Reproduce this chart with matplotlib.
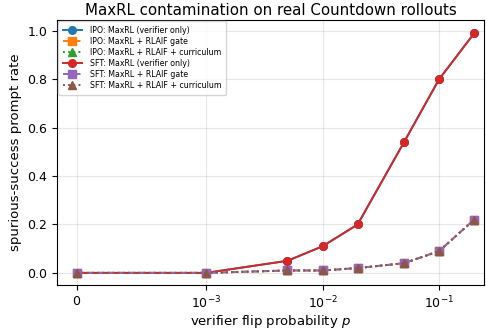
import matplotlib
matplotlib.use("Agg")
import matplotlib.pyplot as plt

p_values = [0, 1e-3, 5e-3, 1e-2, 2e-2, 5e-2, 1e-1, 2e-1]
ipo_maxrl = [0.0, 0.0, 0.05, 0.11, 0.20, 0.54, 0.80, 0.99]
ipo_gate = [0.0, 0.0, 0.01, 0.01, 0.02, 0.04, 0.09, 0.22]
ipo_curr = [0.0, 0.0, 0.01, 0.01, 0.02, 0.04, 0.09, 0.22]
sft_maxrl = [0.0, 0.0, 0.05, 0.11, 0.20, 0.54, 0.80, 0.99]
sft_gate = [0.0, 0.0, 0.01, 0.01, 0.02, 0.04, 0.09, 0.22]
sft_curr = [0.0, 0.0, 0.01, 0.01, 0.02, 0.04, 0.09, 0.22]

series = [
    ("IPO: MaxRL (verifier only)", ipo_maxrl, "#1f77b4", "o", "-"),
    ("IPO: MaxRL + RLAIF gate", ipo_gate, "#ff7f0e", "s", "--"),
    ("IPO: MaxRL + RLAIF + curriculum", ipo_curr, "#2ca02c", "^", ":"),
    ("SFT: MaxRL (verifier only)", sft_maxrl, "#d62728", "o", "-"),
    ("SFT: MaxRL + RLAIF gate", sft_gate, "#9467bd", "s", "--"),
    ("SFT: MaxRL + RLAIF + curriculum", sft_curr, "#8c564b", "^", ":"),
]

fig = plt.figure(figsize=(4.86, 3.31), dpi=100)
ax = fig.add_axes([57/486, 1-285/331, (484-57)/486, (285-20)/331])
for label, vals, color, marker, ls in series:
    ax.plot(p_values, vals, color=color, marker=marker, linestyle=ls,
            label=label, linewidth=1.4, markersize=5.5)

ax.set_xscale("symlog", linthresh=1e-3, linscale=1)
ax.set_xlim(-1.51e-4, 0.243)
ax.set_xticks([0, 1e-3, 1e-2, 1e-1])
ax.set_ylim(-0.05, 1.045)
ax.grid(True, alpha=0.3)
ax.set_xlabel("verifier flip probability $p$", fontsize=9.5, labelpad=1.5)
ax.set_ylabel("spurious-success prompt rate", fontsize=9.5, labelpad=4)
ax.set_title("MaxRL contamination on real Countdown rollouts", fontsize=10.8, pad=3.5)
ax.tick_params(labelsize=9)
ax.legend(loc="upper left", fontsize=5.7, borderaxespad=0.15, borderpad=0.6,
          labelspacing=0.25, handlelength=2.4, handletextpad=1.0)
fig.savefig("out.png", dpi=100)
